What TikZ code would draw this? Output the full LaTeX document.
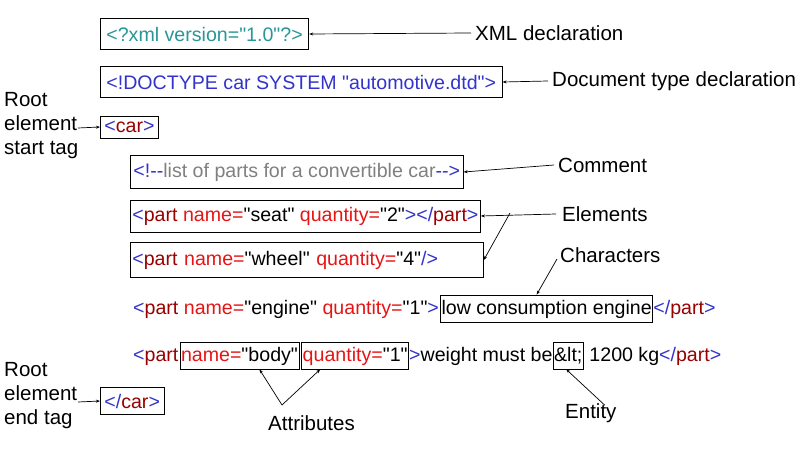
\documentclass[tikz,border=0pt]{standalone}
\usepackage{fontspec}
\setmainfont{Liberation Sans}
\usetikzlibrary{arrows.meta,positioning}
\definecolor{mk}{RGB}{51,51,204}
\definecolor{tg}{RGB}{153,0,0}
\definecolor{at}{RGB}{230,20,20}
\definecolor{xd}{RGB}{40,150,150}
\definecolor{cm}{RGB}{128,128,128}
\newcommand{\M}[1]{\textcolor{mk}{#1}}
\newcommand{\T}[1]{\textcolor{tg}{#1}}
\newcommand{\A}[1]{\textcolor{at}{#1}}
\newcommand{\q}{\textquotedbl}
\begin{document}
\begin{tikzpicture}[x=1pt,y=-1pt,font=\fontsize{19.6}{22}\selectfont,
  box/.style={draw,line width=0.8pt,anchor=west,inner xsep=6pt,minimum height=31pt},
  tx/.style={inner sep=0pt,anchor=base west},
  ibox/.style={draw,line width=0.8pt,inner xsep=1pt,inner ysep=0pt,anchor=base west,text height=19pt,text depth=8pt},
  lbl/.style={anchor=west,inner sep=0pt,font=\fontsize{20.5}{24}\selectfont},
  arr/.style={-{Stealth[length=4pt,width=3pt]},line width=0.7pt}]
\useasboundingbox (0,0) rectangle (800,457);
\node[box] (xml) at (100,34) {\textcolor{xd}{<?xml version=\q1.0\q?>}};
\node[box] (doc) at (100,82) {\M{<!DOCTYPE car SYSTEM \q automotive.dtd\q>}};
\node[box,minimum height=22pt,inner xsep=4pt] (car) at (100,127) {\M{<}\T{car}\M{>}};
\node[box,minimum height=33pt,inner xsep=3pt] (com) at (130,172) {\M{<!-{}-}\textcolor{cm}{list of parts for a convertible car}\M{-{}->}};
\node[box,minimum height=32pt,inner xsep=2pt] (seat) at (130,216) {\M{<}\T{part} \A{name=}\q seat\q\ \A{quantity=}\q2\q\M{></}\T{part}\M{>}};
\node[box,minimum height=35pt,inner xsep=2pt,text width=349pt] (wheel) at (130,260) {\M{<}\T{part} \A{name=}\q wheel\q\ \A{quantity=}\q4\q\M{/>}};
% engine line
\node[tx] (e1) at (133,314) {\M{<}\T{part} \A{name=}\q engine\q\ \A{quantity=}\q1\q\M{>}};
\node[ibox] (chr) at ([xshift=1pt]e1.base east) {low consumption engine};
\node[tx] (e2) at (chr.base east) {\M{</}\T{part}\M{>}};
% body line
\node[tx] (b1) at (133,361) {\M{<}\T{part}};
\node[ibox] (anm) at ([xshift=1pt]b1.base east) {\A{name=}\q body\q};
\node[ibox] (aqt) at ([xshift=2pt]anm.base east) {\A{quantity=}\q1\q};
\node[tx] (b2) at (aqt.base east) {\M{>}weight must be };
\node[ibox] (ent) at (b2.base east) {\&lt;};
\node[tx] (b3) at (ent.base east) {\ 1200 kg\M{</}\T{part}\M{>}};
\node[box,minimum height=27pt,inner xsep=4pt] (ecar) at (100,401) {\M{</}\T{car}\M{>}};
% labels
\node[lbl] (lx) at (475,33) {XML declaration};
\node[lbl] (ld) at (552,81) {Document type declaration};
\node[lbl,align=left,anchor=north west] (lr) at (4,92) {Root\\element\\start tag};
\node[lbl] (lc) at (558,165) {Comment};
\node[lbl] (le) at (562,214) {Elements};
\node[lbl] (lch) at (560,255) {Characters};
\node[lbl] (la) at (268,423) {Attributes};
\node[lbl] (len) at (565,413) {Entity};
\node[lbl,align=left,anchor=north west] (lre) at (4,362) {Root\\element\\end tag};
\coordinate (cr) at (78,128);
\coordinate (cre) at (78,402);
\coordinate (ej) at (510,213);
\coordinate (aj) at (282,405);
\draw[arr] (lx.west) ++(-4,0) -- (xml.east);
\draw[arr] (ld.west) ++(-4,0) -- (doc.east);
\draw[arr] (cr) -- (car.west);
\draw[arr] (cre) -- (ecar.west);
\draw[arr] (lc.west) ++(-4,0) -- (com.east);
\draw[arr] (le.west) ++(-6,0) -- (seat.east);
\draw[arr] (ej) -- (wheel.east);
\draw[arr] (lch.west) ++(-3,4) -- ([xshift=-10pt]chr.north);
\draw[arr] (aj) -- ([xshift=20pt]anm.south);
\draw[arr] (aj) -- ([xshift=-35pt]aqt.south);
\draw[arr] ([xshift=14pt,yshift=-2pt]len.north) -- ([xshift=-2pt]ent.south);
\end{tikzpicture}
\end{document}
